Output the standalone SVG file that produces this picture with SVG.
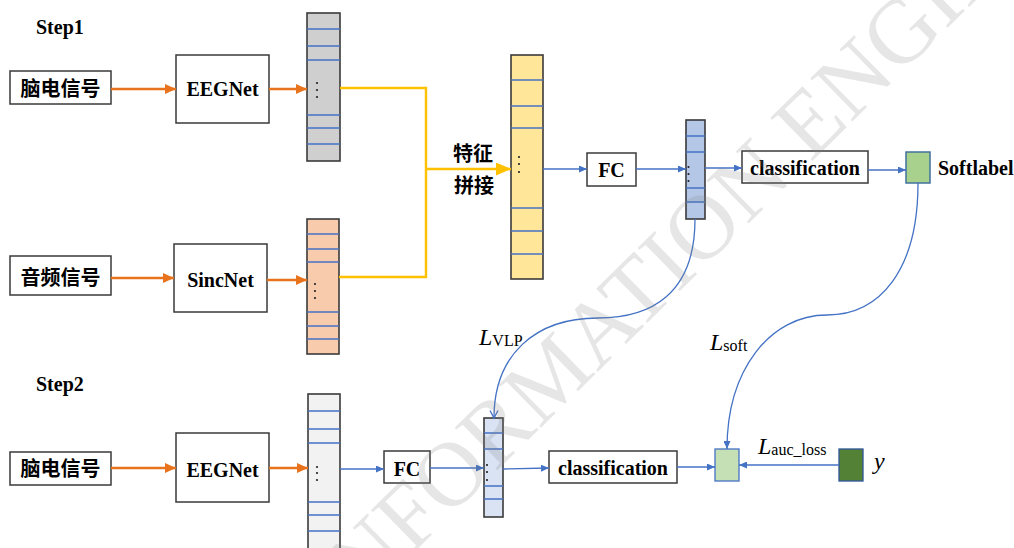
<svg xmlns="http://www.w3.org/2000/svg" width="1014" height="548" viewBox="0 0 1014 548">
<style>
.box{fill:#fff;stroke:#3a3a3a;stroke-width:1.5}
.col{stroke:#3a3a3a;stroke-width:1.6}
.sep{stroke:#4472c4;stroke-width:1.3}
.dot{fill:#222}
.en{font-family:"Liberation Serif","Times New Roman",serif;font-weight:bold;font-size:20px;fill:#000}
.cn{font-family:"Noto Sans CJK SC","Noto Sans",sans-serif;font-weight:bold;font-size:20px;fill:#000}
.math{font-family:"Liberation Serif","Times New Roman",serif;fill:#000}
.or{stroke:#e8731c;stroke-width:2.4;fill:none}
.ye{stroke:#ffc000;stroke-width:2.4;fill:none}
.bl{stroke:#4472c4;stroke-width:1.3;fill:none}
</style>
<defs>
<marker id="aOr" markerUnits="userSpaceOnUse" markerWidth="11" markerHeight="10" refX="11" refY="5" orient="auto"><path d="M0,0 L11,5 L0,10 z" fill="#e8731c"/></marker>
<marker id="aYe" markerUnits="userSpaceOnUse" markerWidth="15" markerHeight="13" refX="15" refY="6.5" orient="auto"><path d="M0,0 L15,6.5 L0,13 z" fill="#ffc000"/></marker>
<marker id="aBl" markerUnits="userSpaceOnUse" markerWidth="8" markerHeight="7" refX="8" refY="3.5" orient="auto"><path d="M0,0 L8,3.5 L0,7 z" fill="#4472c4"/></marker>
<marker id="aV" markerUnits="userSpaceOnUse" markerWidth="10" markerHeight="10" refX="8.5" refY="5" orient="auto"><path d="M1,1 L8.5,5 L1,9" fill="none" stroke="#4472c4" stroke-width="1.3"/></marker>
</defs>
<rect width="1014" height="548" fill="#fff"/>

<text class="en" x="36" y="34">Step1</text>
<text class="en" x="36" y="391">Step2</text>

<g id="eeg1"><rect class="box" x="10" y="71" width="101" height="33"/><text class="cn" x="60.5" y="96" text-anchor="middle">脑电信号</text></g>
<g id="eegnet1"><rect class="box" x="176" y="55" width="93" height="68"/><text class="en" x="222.5" y="96" text-anchor="middle">EEGNet</text></g>
<g id="feat-eeg"><rect class="col" x="307" y="13" width="33" height="148" fill="#d0cfd0"/>
<path class="sep" d="M307,29H340M307,46H340M307,60H340M307,115H340M307,128H340M307,144H340"/>
<circle class="dot" cx="317" cy="83" r="1.1"/><circle class="dot" cx="317" cy="90" r="1.1"/><circle class="dot" cx="317" cy="97" r="1.1"/></g>

<g id="audio"><rect class="box" x="10" y="256" width="101" height="39"/><text class="cn" x="60.5" y="285" text-anchor="middle">音频信号</text></g>
<g id="sincnet"><rect class="box" x="174" y="244" width="93" height="68"/><text class="en" x="220.5" y="287" text-anchor="middle">SincNet</text></g>
<g id="feat-audio"><rect class="col" x="307" y="219" width="32" height="135" fill="#f8cbad"/>
<path class="sep" d="M307,234H339M307,249H339M307,262H339M307,312H339M307,326H339M307,339H339"/>
<circle class="dot" cx="315" cy="284" r="1.1"/><circle class="dot" cx="315" cy="291" r="1.1"/><circle class="dot" cx="315" cy="298" r="1.1"/></g>

<g id="concat-label"><text class="cn" x="473" y="161" text-anchor="middle">特征</text><text class="cn" x="474" y="193" text-anchor="middle">拼接</text></g>
<g id="feat-concat"><rect class="col" x="511" y="55" width="32" height="224" fill="#ffe699"/>
<path class="sep" d="M511,80H543M511,106H543M511,128H543M511,208H543M511,231H543M511,254H543"/>
<circle class="dot" cx="519" cy="157" r="1.1"/><circle class="dot" cx="519" cy="164" r="1.1"/><circle class="dot" cx="519" cy="172" r="1.1"/></g>

<g id="fc1"><rect class="box" x="587" y="153" width="49" height="33"/><text class="en" x="611.5" y="177" text-anchor="middle">FC</text></g>
<g id="feat-fc1"><rect class="col" x="686" y="120" width="19" height="99" fill="#b4c7e7"/>
<path class="sep" d="M686,136H705M686,152H705M686,188H705M686,202H705"/>
<circle class="dot" cx="688.5" cy="167" r="1.1"/><circle class="dot" cx="688.5" cy="174" r="1.1"/><circle class="dot" cx="688.5" cy="181" r="1.1"/></g>
<g id="cls1"><rect class="box" x="742" y="151" width="126" height="32"/><text class="en" x="805" y="175" text-anchor="middle">classification</text></g>
<g id="softlabel"><rect x="906" y="152" width="24" height="31" fill="#a9d18e" stroke="#41719c" stroke-width="1.5"/><text class="en" x="938" y="175">Softlabel</text></g>

<g id="eeg2"><rect class="box" x="10" y="452" width="101" height="33"/><text class="cn" x="60.5" y="476" text-anchor="middle">脑电信号</text></g>
<g id="eegnet2"><rect class="box" x="176" y="433" width="93" height="69"/><text class="en" x="222.5" y="477" text-anchor="middle">EEGNet</text></g>
<g id="feat-eeg2"><rect class="col" x="308" y="394" width="32" height="160" fill="#f2f2f2"/>
<path class="sep" d="M308,411H340M308,429H340M308,443H340M308,502H340M308,515H340M308,531H340"/>
<circle class="dot" cx="317" cy="467" r="1.1"/><circle class="dot" cx="317" cy="473" r="1.1"/><circle class="dot" cx="317" cy="480" r="1.1"/></g>
<g id="fc2"><rect class="box" x="384" y="451" width="46" height="32"/><text class="en" x="407" y="476" text-anchor="middle">FC</text></g>
<g id="feat-fc2"><rect class="col" x="484" y="418" width="19" height="99" fill="#dae3f3"/>
<path class="sep" d="M484,433H503M484,449H503M484,486H503M484,499H503"/>
<circle class="dot" cx="487" cy="465" r="1.1"/><circle class="dot" cx="487" cy="472" r="1.1"/><circle class="dot" cx="487" cy="480" r="1.1"/></g>
<g id="cls2"><rect class="box" x="549" y="451" width="128" height="32"/><text class="en" x="613" y="475" text-anchor="middle">classification</text></g>
<g id="pred"><rect x="715" y="449" width="24" height="32" fill="#c5e0b4" stroke="#4472c4" stroke-width="1.3"/></g>
<g id="label-y"><rect x="839" y="449" width="24" height="32" fill="#538135" stroke="#2f5597" stroke-width="1.3"/><text class="math" x="874" y="469" font-size="24" font-style="italic">y</text></g>

<g id="connectors">
<path class="or" d="M111,89H176" marker-end="url(#aOr)"/>
<path class="or" d="M269,89H307" marker-end="url(#aOr)"/>
<path class="or" d="M111,278H174" marker-end="url(#aOr)"/>
<path class="or" d="M267,280H307" marker-end="url(#aOr)"/>
<path class="ye" d="M340,88H426V277H339"/>
<path class="ye" d="M426,169H511" marker-end="url(#aYe)"/>
<path class="bl" d="M543,169H587" marker-end="url(#aBl)"/>
<path class="bl" d="M636,169H686" marker-end="url(#aBl)"/>
<path class="bl" d="M705,168H742" marker-end="url(#aBl)"/>
<path class="bl" d="M868,170H906" marker-end="url(#aBl)"/>
<path class="or" d="M111,468H176" marker-end="url(#aOr)"/>
<path class="or" d="M269,468H308" marker-end="url(#aOr)"/>
<path class="bl" d="M340,469H384" marker-end="url(#aBl)"/>
<path class="bl" d="M430,468H484" marker-end="url(#aBl)"/>
<path class="bl" d="M503,469L549,468" marker-end="url(#aBl)"/>
<path class="bl" d="M677,467H715" marker-end="url(#aBl)"/>
<path class="bl" d="M839,465H739" marker-end="url(#aBl)"/>
<path class="bl" d="M695,219C695,295 650,318 598,318C535,318 494,355 494,418" marker-end="url(#aV)"/>
<path class="bl" d="M918,183C918,270 880,315 827,315C770,315 727,370 727,449" marker-end="url(#aBl)"/>
<text class="math" x="479" y="345" font-size="24"><tspan font-style="italic">L</tspan><tspan font-size="16" dy="1">VLP</tspan></text>
<text class="math" x="710" y="350" font-size="24"><tspan font-style="italic">L</tspan><tspan font-size="16" dy="1">soft</tspan></text>
<text class="math" x="758" y="454" font-size="24"><tspan font-style="italic">L</tspan><tspan font-size="16" dy="1">auc_loss</tspan></text>
</g>

<g id="watermark"><text transform="translate(342,623) rotate(-44.5)" font-family="Liberation Serif,serif" font-size="92" fill="#808080" fill-opacity="0.2">INFORMATION ENGINEERING</text></g>
</svg>
